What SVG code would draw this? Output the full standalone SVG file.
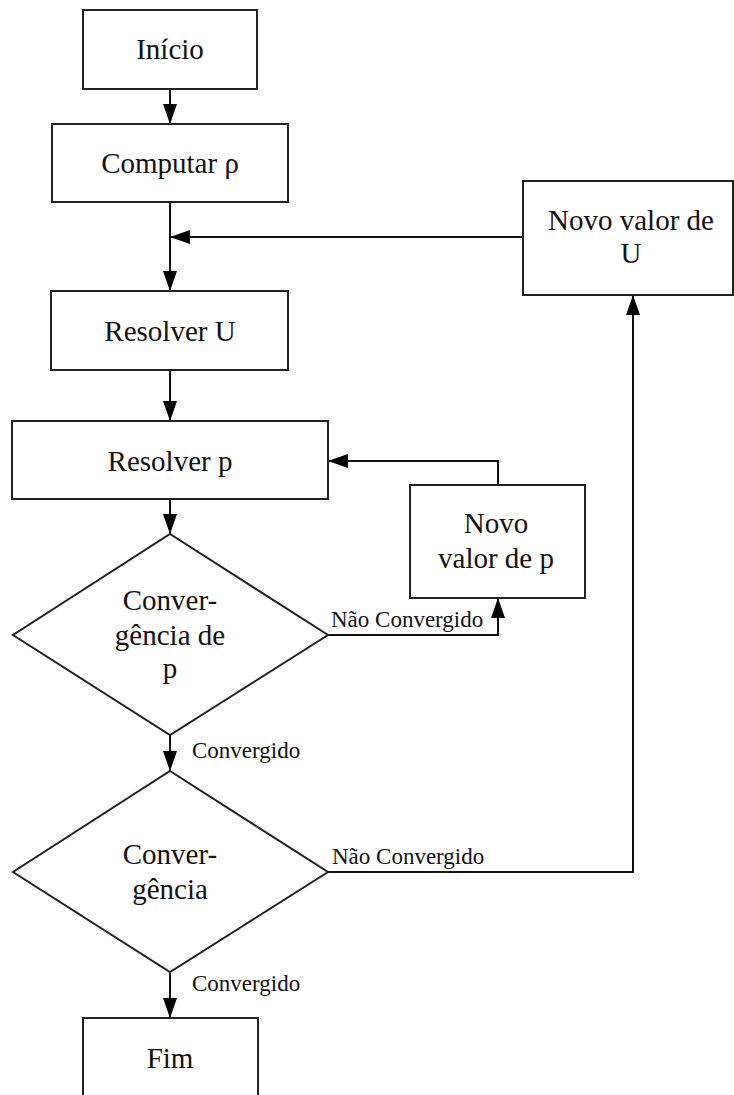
<svg xmlns="http://www.w3.org/2000/svg" width="734" height="1095" viewBox="0 0 734 1095" font-family="'Liberation Serif', 'Times New Roman', 'DejaVu Serif', serif">
<style>
.box{fill:#fff;stroke:#222;stroke-width:2}
text{font-family:'Liberation Serif','Times New Roman','DejaVu Serif',serif}
.t{font-size:29px;fill:#111;text-anchor:middle}
.lbl{font-size:23px;fill:#111}
.c{fill:none;stroke:#111;stroke-width:2}
</style>
<defs>
<marker id="arr" viewBox="0 0 20 14" refX="20" refY="7" markerWidth="20" markerHeight="14" markerUnits="userSpaceOnUse" orient="auto">
<path d="M0,0 L20,7 L0,14 z" fill="#000"/>
</marker>
</defs>
<rect width="734" height="1095" fill="#fff"/>
<g id="connectors">
<path class="c" d="M170,89 V124" marker-end="url(#arr)"/>
<path class="c" d="M170,202 V291" marker-end="url(#arr)"/>
<path class="c" d="M523,237 H170" marker-end="url(#arr)"/>
<path class="c" d="M170,370 V421" marker-end="url(#arr)"/>
<path class="c" d="M170,499 V534" marker-end="url(#arr)"/>
<path class="c" d="M328,635 H498 V598" marker-end="url(#arr)"/>
<path class="c" d="M498,485 V461 H328" marker-end="url(#arr)"/>
<path class="c" d="M170,735 V771" marker-end="url(#arr)"/>
<path class="c" d="M328,872 H633 V295" marker-end="url(#arr)"/>
<path class="c" d="M170,972 V1018" marker-end="url(#arr)"/>
<text class="lbl" x="192" y="758">Convergido</text>
<text class="lbl" x="331" y="627">Não Convergido</text>
<text class="lbl" x="332" y="864">Não Convergido</text>
<text class="lbl" x="192" y="991">Convergido</text>
</g>
<g id="inicio">
<rect class="box" x="83" y="10" width="174" height="79"/>
<text class="t" x="170" y="59">Início</text>
</g>
<g id="computar">
<rect class="box" x="52" y="124" width="236" height="78"/>
<text class="t" x="170" y="173">Computar ρ</text>
</g>
<g id="novo-u">
<rect class="box" x="523" y="181" width="210" height="114"/>
<text class="t" x="631" y="230">Novo valor de</text>
<text class="t" x="631" y="263">U</text>
</g>
<g id="resolver-u">
<rect class="box" x="51" y="291" width="237" height="79"/>
<text class="t" x="170" y="341">Resolver U</text>
</g>
<g id="resolver-p">
<rect class="box" x="12" y="421" width="316" height="78"/>
<text class="t" x="170" y="471">Resolver p</text>
</g>
<g id="novo-p">
<rect class="box" x="410" y="485" width="175" height="113"/>
<text class="t" x="496" y="533">Novo</text>
<text class="t" x="496" y="568">valor de p</text>
</g>
<g id="conv-p">
<polygon class="box" points="170,534 328,635 170,735 13,635"/>
<text class="t" x="170" y="610">Conver-</text>
<text class="t" x="170" y="645">gência de</text>
<text class="t" x="170" y="678">p</text>
</g>
<g id="conv">
<polygon class="box" points="170,771 328,872 170,972 13,872"/>
<text class="t" x="170" y="864">Conver-</text>
<text class="t" x="170" y="899">gência</text>
</g>
<g id="fim">
<rect class="box" x="83" y="1018" width="175" height="100"/>
<text class="t" x="170" y="1068">Fim</text>
</g>
</svg>
